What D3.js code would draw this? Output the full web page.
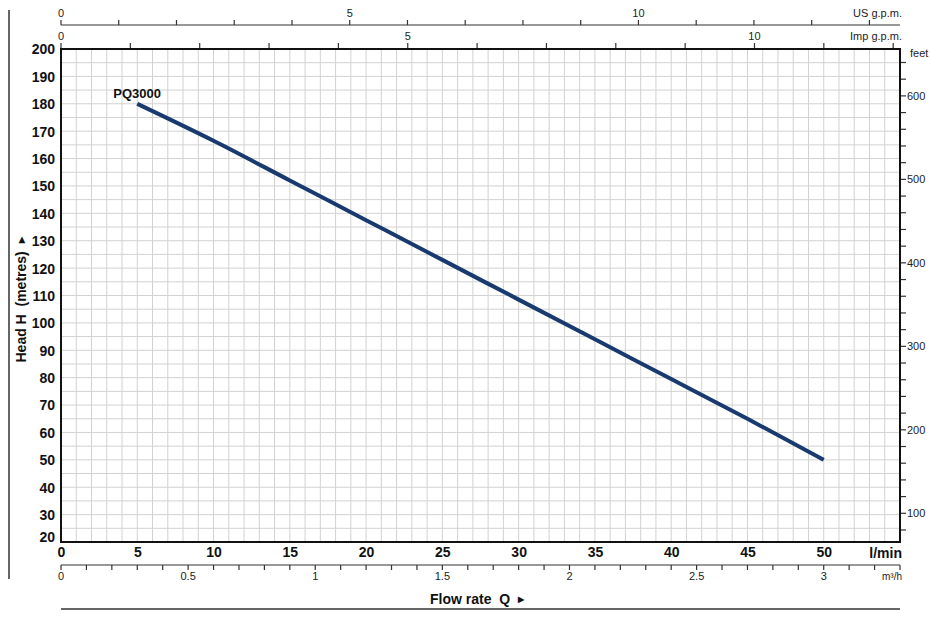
<!DOCTYPE html>
<html>
<head>
<meta charset="utf-8">
<script src="https://cdn.jsdelivr.net/npm/d3@7"></script>
<style>
  body { margin: 0; background: #fff; }
  svg { display: block; }
  .grid line { stroke: #d2d2d2; stroke-width: 1; }
  .lbl { font-family: 'Liberation Sans Narrow', 'Liberation Sans', Arial, sans-serif; fill: #222; }
  .bold { font-family: 'Liberation Sans', Arial, sans-serif; font-weight: bold; fill: #111; }
</style>
</head>
<body>
<div id="chart"></div>
<script>
(function() {

  // pump curve PQ3000 (flow l/min -> head m)
  var flowLpm = [5, 10, 15, 20, 25, 30, 35, 40, 45, 50],
      headM   = [180, 166.5, 152, 137.5, 123, 108.5, 94, 79.5, 65, 50];

  // tick labels
  var headTicks = [20, 30, 40, 50, 60, 70, 80, 90, 100, 110, 120, 130, 140, 150, 160, 170, 180, 190, 200],
      flowTicks = [0, 5, 10, 15, 20, 25, 30, 35, 40, 45, 50],
      m3hLabels = [0, 0.5, 1, 1.5, 2, 2.5, 3],
      usLabels  = [0, 5, 10],
      impLabels = [0, 5, 10],
      feetLabels = [100, 200, 300, 400, 500, 600];

  // unit conversions
  var US_GAL = 3.78541, IMP_GAL = 4.54609, FOOT = 0.3048;

  var W = 930, H = 626;

  var svg = d3.select('#chart').append('svg')
    .attr('width', W)
    .attr('height', H);

  var x = d3.scaleLinear().domain([0, 55]).range([61, 900]),
      y = d3.scaleLinear().domain([20, 200]).range([542, 49]);

  // grid
  var grid = svg.append('g').attr('class', 'grid');
  grid.selectAll('line.v')
    .data(d3.range(1, 55))
    .enter().append('line')
    .attr('x1', x).attr('x2', x)
    .attr('y1', y(20)).attr('y2', y(200));
  grid.selectAll('line.h')
    .data(d3.range(25, 200, 5))
    .enter().append('line')
    .attr('y1', y).attr('y2', y)
    .attr('x1', x(0)).attr('x2', x(55));

  // left axis (metres)
  var yAxis = svg.append('g')
    .attr('transform', 'translate(' + x(0) + ',0)')
    .call(d3.axisLeft(y).tickValues(headTicks).tickSize(0).tickPadding(6));
  yAxis.select('.domain').remove();
  yAxis.selectAll('text')
    .attr('class', 'bold')
    .style('font-size', '14px')
    .attr('dy', '0.35em');
  yAxis.selectAll('text').filter(function(d) { return d === 20; }).attr('dy', '-0.05em');

  // bottom axis (l/min)
  var xAxis = svg.append('g')
    .attr('transform', 'translate(0,' + y(20) + ')')
    .call(d3.axisBottom(x).tickValues(flowTicks).tickSize(0).tickPadding(5));
  xAxis.select('.domain').remove();
  xAxis.selectAll('text')
    .attr('class', 'bold')
    .style('font-size', '14px');

  svg.append('text')
    .attr('class', 'bold')
    .attr('x', 902).attr('y', 558)
    .attr('text-anchor', 'end')
    .style('font-size', '14px')
    .text('l/min');

  // m3/h axis
  var m3 = d3.scaleLinear().domain([0, 3.3]).range([x(0), x(55)]);
  var m3g = svg.append('g').attr('transform', 'translate(0,565)');
  m3g.append('line')
    .attr('x1', x(0)).attr('x2', x(55))
    .attr('stroke', '#333').attr('stroke-width', 1.2);
  m3g.selectAll('line.t')
    .data(d3.range(0, 34).map(function(i) { return i / 10; }))
    .enter().append('line')
    .attr('x1', m3).attr('x2', m3)
    .attr('y1', 0).attr('y2', 5)
    .attr('stroke', '#333').attr('stroke-width', 1.2);
  m3g.selectAll('text')
    .data(m3hLabels)
    .enter().append('text')
    .attr('class', 'lbl')
    .attr('x', m3).attr('y', 15)
    .attr('text-anchor', 'middle')
    .style('font-size', '11px')
    .text(function(d) { return d; });
  m3g.append('text')
    .attr('class', 'lbl')
    .attr('x', 902).attr('y', 15)
    .attr('text-anchor', 'end')
    .style('font-size', '10px')
    .text('m³/h');

  // US gpm axis (top)
  var us = d3.scaleLinear().domain([0, 55 / US_GAL]).range([x(0), x(55)]);
  var usg = svg.append('g').attr('transform', 'translate(0,25)');
  usg.append('line')
    .attr('x1', x(0)).attr('x2', x(55))
    .attr('stroke', '#333').attr('stroke-width', 1.2);
  usg.selectAll('line.t')
    .data(d3.range(0, 15))
    .enter().append('line')
    .attr('x1', us).attr('x2', us)
    .attr('y1', 0).attr('y2', -5)
    .attr('stroke', '#333').attr('stroke-width', 1.2);
  usg.selectAll('text')
    .data(usLabels)
    .enter().append('text')
    .attr('class', 'lbl')
    .attr('x', us).attr('y', -8)
    .attr('text-anchor', 'middle')
    .style('font-size', '11px')
    .text(function(d) { return d; });
  usg.append('text')
    .attr('class', 'lbl')
    .attr('x', 902).attr('y', -8)
    .attr('text-anchor', 'end')
    .style('font-size', '11px')
    .text('US g.p.m.');

  // Imp gpm axis (on top border)
  var imp = d3.scaleLinear().domain([0, 55 / IMP_GAL]).range([x(0), x(55)]);
  var impg = svg.append('g').attr('transform', 'translate(0,' + y(200) + ')');
  impg.selectAll('line.t')
    .data(d3.range(0, 13))
    .enter().append('line')
    .attr('x1', imp).attr('x2', imp)
    .attr('y1', 0).attr('y2', -6)
    .attr('stroke', '#333').attr('stroke-width', 1.2);
  impg.selectAll('text')
    .data(impLabels)
    .enter().append('text')
    .attr('class', 'lbl')
    .attr('x', imp).attr('y', -9)
    .attr('text-anchor', 'middle')
    .style('font-size', '11px')
    .text(function(d) { return d; });
  impg.append('text')
    .attr('class', 'lbl')
    .attr('x', 902).attr('y', -9)
    .attr('text-anchor', 'end')
    .style('font-size', '11px')
    .text('Imp g.p.m.');

  // feet axis (right)
  var ft = d3.scaleLinear().domain([20 / FOOT, 200 / FOOT]).range([y(20), y(200)]);
  var ftg = svg.append('g').attr('transform', 'translate(' + x(55) + ',0)');
  ftg.selectAll('line.t')
    .data(d3.range(80, 660, 20))
    .enter().append('line')
    .attr('y1', ft).attr('y2', ft)
    .attr('x1', 0).attr('x2', 6)
    .attr('stroke', '#333').attr('stroke-width', 1.2);
  ftg.selectAll('text')
    .data(feetLabels)
    .enter().append('text')
    .attr('class', 'lbl')
    .attr('x', 7).attr('y', ft)
    .attr('dy', '0.35em')
    .style('font-size', '11px')
    .text(function(d) { return d; });
  svg.append('text')
    .attr('class', 'lbl')
    .attr('x', 910).attr('y', 57)
    .style('font-size', '11px')
    .text('feet');

  // plot frame
  svg.append('rect')
    .attr('x', x(0)).attr('y', y(200))
    .attr('width', x(55) - x(0))
    .attr('height', y(20) - y(200))
    .attr('fill', 'none')
    .attr('stroke', '#111')
    .attr('stroke-width', 2);

  // curve
  var line = d3.line()
    .x(function(d, i) { return x(flowLpm[i]); })
    .y(function(d) { return y(d); })
    .curve(d3.curveMonotoneX);

  svg.append('path')
    .datum(headM)
    .attr('d', line)
    .attr('fill', 'none')
    .attr('stroke', '#183a6e')
    .attr('stroke-width', 4);

  svg.append('text')
    .attr('class', 'bold')
    .attr('x', x(flowLpm[0]) - 24).attr('y', y(headM[0]) - 6)
    .style('font-size', '13px')
    .text('PQ3000');

  // axis titles
  var yt = svg.append('text')
    .attr('class', 'bold')
    .attr('transform', 'translate(26,300) rotate(-90)')
    .attr('text-anchor', 'middle')
    .style('font-size', '14px');
  yt.append('tspan').text('Head H\u00a0\u00a0(metres)\u00a0\u00a0');
  yt.append('tspan').attr('dy', '-2').style('font-size', '8px').text('▶');

  var xt = svg.append('text')
    .attr('class', 'bold')
    .attr('x', 430).attr('y', 604)
    .style('font-size', '14px');
  xt.append('tspan').text('Flow rate\u00a0\u00a0Q\u00a0\u00a0');
  xt.append('tspan').attr('dy', '-2').style('font-size', '8px').text('▶');

  // left rule and bottom rule
  svg.append('line')
    .attr('x1', 9).attr('x2', 9)
    .attr('y1', 10).attr('y2', 579)
    .attr('stroke', '#333').attr('stroke-width', 1.5);
  svg.append('line')
    .attr('x1', x(0)).attr('x2', x(55))
    .attr('y1', 609).attr('y2', 609)
    .attr('stroke', '#333').attr('stroke-width', 1.5);

})();
</script>
</body>
</html>
